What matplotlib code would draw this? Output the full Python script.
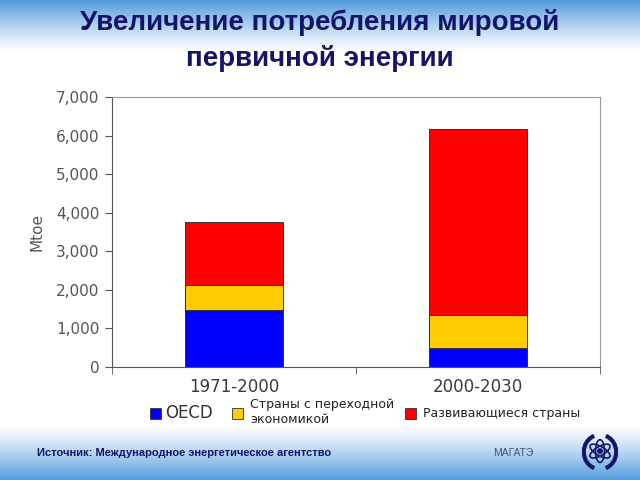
"""Stacked bars: growth of world primary energy demand, by region group"""

import matplotlib.pyplot as plt
from matplotlib.patches import Ellipse, Arc, Rectangle
import numpy as np

periods = ["1971-2000", "2000-2030"]
oecd = [1480, 490]
transition = [650, 860]
developing = [1630, 4820]

series_names = ["OECD", "Страны с переходной\nэкономикой", "Развивающиеся страны"]
series_colors = ["#0000FF", "#FFCC00", "#FF0000"]

y_ticks = [0, 1000, 2000, 3000, 4000, 5000, 6000, 7000]

NAVY = "#14146a"


def background(fig):
    # blue band at top and bottom, fading into white
    bg = fig.add_axes([0, 0, 1, 1], zorder=-10)
    h = 480
    rows = np.arange(h)
    t = np.zeros(h)
    top = rows < 52
    t[top] = (1 - rows[top] / 52.0) ** 1.2
    bot = rows > 425
    t[bot] = ((rows[bot] - 425) / 55.0) ** 1.2
    blue = np.array([0.32, 0.61, 0.87])
    img = np.ones((h, 1, 3)) * (1 - t[:, None, None]) + blue * t[:, None, None]
    bg.imshow(img, aspect="auto", extent=[0, 1, 0, 1])
    bg.set_axis_off()


def logo(fig):
    lg = fig.add_axes([582 / 640, 1 - 472 / 480, 36 / 640, 40 / 480])
    lg.set_xlim(-1, 1)
    lg.set_ylim(-1.1, 1.1)
    for ang in (0, 60, 120):
        lg.add_patch(Ellipse((0, 0.05), 0.5, 1.25, angle=ang, fill=False,
                             ec=NAVY, lw=1.2))
    lg.add_patch(Ellipse((0, 0.05), 0.25, 0.25, color=NAVY))
    lg.add_patch(Arc((0, 0), 1.8, 1.9, theta1=110, theta2=250, ec=NAVY, lw=3))
    lg.add_patch(Arc((0, 0), 1.8, 1.9, theta1=-70, theta2=70, ec=NAVY, lw=3))
    lg.set_axis_off()


def graph():
    fig = plt.figure(figsize=(6.4, 4.8), dpi=100)
    background(fig)

    fig.text(0.5, 1 - 23 / 480, "Увеличение потребления мировой",
             ha="center", va="center", fontsize=20, fontweight="bold",
             color=NAVY, family="Liberation Sans")
    fig.text(0.5, 1 - 58 / 480, "первичной энергии",
             ha="center", va="center", fontsize=20, fontweight="bold",
             color=NAVY, family="Liberation Sans")

    ax = fig.add_axes([112 / 640, 1 - 367 / 480, 488 / 640, 270 / 480])
    x = np.arange(len(periods))
    bottom = np.zeros(len(periods))
    for vals, col in zip([oecd, transition, developing], series_colors):
        ax.bar(x, vals, 0.4, bottom=bottom, color=col, edgecolor="#333333",
               linewidth=0.7)
        bottom += np.array(vals)

    ax.set_xlim(-0.5, 1.5)
    ax.set_ylim(0, 7000)
    ax.set_yticks(y_ticks)
    ax.set_yticklabels(["{:,}".format(v) for v in y_ticks])
    ax.set_xticks(x)
    ax.set_xticklabels(periods)
    ax.set_xticks([-0.5, 0.5, 1.5], minor=True)
    ax.tick_params(axis="x", which="major", length=0, pad=8,
                   labelsize=12, labelcolor="#3a3a3a")
    ax.tick_params(axis="x", which="minor", length=5, color="#555555",
                   direction="out")
    ax.tick_params(axis="y", length=5, color="#555555", labelsize=11,
                   labelcolor="#555555", pad=4)
    for side in ("top", "right"):
        ax.spines[side].set_color("#999999")
    for side in ("left", "bottom"):
        ax.spines[side].set_color("#555555")
    ax.set_ylabel("Mtoe", fontsize=11, color="#555555", labelpad=8)

    # legend drawn by hand to sit like the original
    sq = 11
    items = [(150, series_names[0], 165, "#333333"),
             (232, series_names[1], 250, "#222222"),
             (405, series_names[2], 423, "#222222")]
    for (px, label, tx, tc), col in zip(items, series_colors):
        fig.patches.append(Rectangle((px / 640, 1 - 419 / 480), sq / 640,
                                     sq / 480, transform=fig.transFigure,
                                     facecolor=col, edgecolor="#333333",
                                     lw=0.6))
        if "\n" in label:
            fig.text(tx / 640, 1 - 412 / 480, label, ha="left", va="center",
                     fontsize=9, color=tc, linespacing=1.15)
        elif label == "OECD":
            fig.text(tx / 640, 1 - 413 / 480, label, ha="left", va="center",
                     fontsize=12, color=tc)
        else:
            fig.text(tx / 640, 1 - 413 / 480, label, ha="left", va="center",
                     fontsize=9, color=tc)

    fig.text(37 / 640, 1 - 453 / 480,
             "Источник: Международное энергетическое агентство",
             ha="left", va="center", fontsize=8, fontweight="bold",
             color=NAVY, family=["Liberation Sans Narrow", "Liberation Sans"])
    fig.text(513 / 640, 1 - 453 / 480, "МАГАТЭ", ha="center", va="center",
             fontsize=7.5, color="#44507a",
             family=["Liberation Sans Narrow", "Liberation Sans"])
    logo(fig)

    fig.savefig("out.png", dpi=100)


def main():
    graph()


if __name__ == "__main__":
    main()
